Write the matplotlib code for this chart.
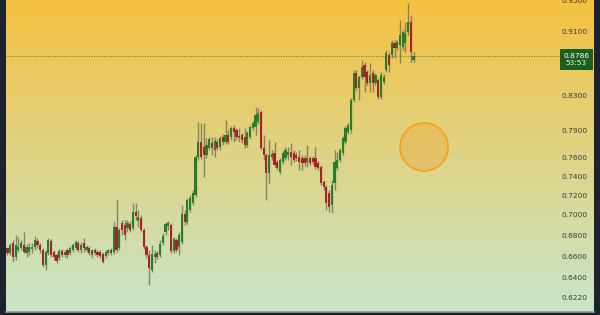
import numpy as np
import matplotlib
matplotlib.use("Agg")
import matplotlib.pyplot as plt
from matplotlib.ticker import FixedLocator, NullLocator, FixedFormatter
from matplotlib.patches import Ellipse, Rectangle
import matplotlib.transforms as mtransforms

opens = [0.6676, 0.6629, 0.6724, 0.6591, 0.6657, 0.6676, 0.6705, 0.6629, 0.6638, 0.6667,
         0.6686, 0.6743, 0.6705, 0.6657, 0.6516, 0.6629, 0.6743, 0.6638, 0.6610, 0.6582,
         0.6648, 0.6610, 0.6657, 0.6629, 0.6657, 0.6676, 0.6724, 0.6657, 0.6724, 0.6657,
         0.6676, 0.6610, 0.6657, 0.6638, 0.6638, 0.6619, 0.6601, 0.6629, 0.6657, 0.6638,
         0.6879, 0.6676, 0.6918, 0.6899, 0.6869, 0.6909, 0.6869, 0.7028, 0.6938, 0.6968,
         0.6850, 0.6686, 0.6610, 0.6470, 0.6591, 0.6629, 0.6610, 0.6724, 0.6830, 0.6889,
         0.6899, 0.6648, 0.6753, 0.6686, 0.6734, 0.7008, 0.6928, 0.7048, 0.7118, 0.7200,
         0.7601, 0.7766, 0.7711, 0.7623, 0.7700, 0.7755, 0.7678, 0.7766, 0.7711, 0.7822,
         0.7766, 0.7844, 0.7822, 0.7923, 0.7900, 0.7810, 0.7844, 0.7822, 0.7733, 0.7822,
         0.7923, 0.7934, 0.7991, 0.8106, 0.7700, 0.7623, 0.7430, 0.7601, 0.7645, 0.7547,
         0.7441, 0.7547, 0.7591, 0.7623, 0.7656, 0.7645, 0.7623, 0.7601, 0.7591, 0.7591,
         0.7547, 0.7591, 0.7591, 0.7591, 0.7537, 0.7494, 0.7335, 0.7283, 0.7221, 0.7098,
         0.7325, 0.7483, 0.7569, 0.7645, 0.7766, 0.7878, 0.7900, 0.8246, 0.8570, 0.8388,
         0.8522, 0.8669, 0.8583, 0.8449, 0.8570, 0.8449, 0.8485, 0.8281, 0.8461, 0.8607,
         0.8793, 0.8793, 0.8945, 0.8881, 0.8920, 0.8894, 0.8945, 0.9087, 0.9218, 0.8731]
highs = [0.6686, 0.6724, 0.6753, 0.6801, 0.6782, 0.6753, 0.6830, 0.6715, 0.6724, 0.6724,
         0.6791, 0.6772, 0.6724, 0.6676, 0.6657, 0.6772, 0.6763, 0.6657, 0.6629, 0.6667,
         0.6667, 0.6657, 0.6676, 0.6695, 0.6724, 0.6753, 0.6743, 0.6734, 0.6772, 0.6705,
         0.6695, 0.6667, 0.6676, 0.6657, 0.6657, 0.6638, 0.6657, 0.6667, 0.6676, 0.6928,
         0.7149, 0.6869, 0.6948, 0.6948, 0.6948, 0.6938, 0.7118, 0.7118, 0.7048, 0.6998,
         0.6869, 0.6705, 0.6657, 0.6705, 0.6657, 0.6648, 0.6753, 0.6821, 0.6928, 0.6938,
         0.6918, 0.6782, 0.6772, 0.6830, 0.7098, 0.7048, 0.7169, 0.7200, 0.7252, 0.7623,
         0.7991, 0.7980, 0.7980, 0.7810, 0.7822, 0.7822, 0.7822, 0.7799, 0.7833, 0.7855,
         0.8014, 0.7900, 0.7946, 0.7957, 0.7923, 0.7923, 0.7866, 0.7923, 0.7889, 0.7957,
         0.8003, 0.8164, 0.8152, 0.8129, 0.7844, 0.7645, 0.7788, 0.7678, 0.7766, 0.7569,
         0.7591, 0.7667, 0.7711, 0.7711, 0.7755, 0.7678, 0.7656, 0.7678, 0.7623, 0.7623,
         0.7733, 0.7612, 0.7612, 0.7711, 0.7558, 0.7515, 0.7356, 0.7304, 0.7252, 0.7356,
         0.7678, 0.7656, 0.7700, 0.7833, 0.7946, 0.7980, 0.8270, 0.8607, 0.8607, 0.8546,
         0.8731, 0.8706, 0.8607, 0.8694, 0.8607, 0.8570, 0.8509, 0.8583, 0.8558, 0.8856,
         0.8831, 0.8984, 0.8984, 0.8984, 0.9244, 0.9113, 0.9218, 0.9471, 0.9310, 0.8831]
lows = [0.6610, 0.6610, 0.6544, 0.6563, 0.6638, 0.6657, 0.6629, 0.6591, 0.6610, 0.6629,
        0.6657, 0.6676, 0.6629, 0.6498, 0.6470, 0.6610, 0.6591, 0.6563, 0.6535, 0.6563,
        0.6591, 0.6591, 0.6582, 0.6610, 0.6638, 0.6657, 0.6638, 0.6629, 0.6638, 0.6638,
        0.6610, 0.6582, 0.6610, 0.6591, 0.6582, 0.6535, 0.6582, 0.6610, 0.6610, 0.6619,
        0.6638, 0.6657, 0.6801, 0.6753, 0.6830, 0.6830, 0.6850, 0.6948, 0.6879, 0.6830,
        0.6667, 0.6582, 0.6333, 0.6452, 0.6535, 0.6572, 0.6591, 0.6705, 0.6801, 0.6850,
        0.6629, 0.6629, 0.6638, 0.6610, 0.6715, 0.6899, 0.6909, 0.7028, 0.7098, 0.7180,
        0.7569, 0.7580, 0.7388, 0.7591, 0.7678, 0.7623, 0.7601, 0.7678, 0.7678, 0.7733,
        0.7744, 0.7744, 0.7788, 0.7766, 0.7788, 0.7766, 0.7755, 0.7700, 0.7711, 0.7799,
        0.7900, 0.7844, 0.7968, 0.7678, 0.7569, 0.7149, 0.7325, 0.7569, 0.7494, 0.7462,
        0.7420, 0.7526, 0.7569, 0.7569, 0.7515, 0.7547, 0.7558, 0.7462, 0.7462, 0.7504,
        0.7494, 0.7515, 0.7526, 0.7473, 0.7462, 0.7304, 0.7252, 0.7048, 0.7028, 0.7018,
        0.7252, 0.7462, 0.7547, 0.7623, 0.7744, 0.7855, 0.7866, 0.8222, 0.8364, 0.8246,
        0.8497, 0.8340, 0.8424, 0.8340, 0.8340, 0.8424, 0.8258, 0.8258, 0.8436, 0.8583,
        0.8583, 0.8756, 0.8756, 0.8856, 0.8694, 0.8856, 0.8831, 0.9048, 0.8706, 0.8706]
closes = [0.6629, 0.6705, 0.6591, 0.6705, 0.6686, 0.6724, 0.6638, 0.6686, 0.6686, 0.6686,
          0.6753, 0.6705, 0.6657, 0.6516, 0.6638, 0.6753, 0.6610, 0.6591, 0.6554, 0.6648,
          0.6610, 0.6638, 0.6610, 0.6676, 0.6705, 0.6734, 0.6657, 0.6705, 0.6676, 0.6686,
          0.6629, 0.6657, 0.6629, 0.6610, 0.6601, 0.6544, 0.6638, 0.6657, 0.6629, 0.6879,
          0.6657, 0.6850, 0.6850, 0.6801, 0.6918, 0.6850, 0.7028, 0.6988, 0.6978, 0.6850,
          0.6686, 0.6610, 0.6489, 0.6619, 0.6619, 0.6591, 0.6715, 0.6791, 0.6909, 0.6918,
          0.6648, 0.6763, 0.6657, 0.6801, 0.7008, 0.6928, 0.7149, 0.7169, 0.7221, 0.7601,
          0.7766, 0.7601, 0.7623, 0.7733, 0.7799, 0.7700, 0.7777, 0.7700, 0.7810, 0.7766,
          0.7844, 0.7766, 0.7923, 0.7878, 0.7822, 0.7833, 0.7788, 0.7733, 0.7866, 0.7934,
          0.7980, 0.8071, 0.8094, 0.7700, 0.7623, 0.7430, 0.7623, 0.7634, 0.7515, 0.7483,
          0.7569, 0.7645, 0.7678, 0.7656, 0.7601, 0.7569, 0.7591, 0.7547, 0.7537, 0.7537,
          0.7591, 0.7537, 0.7547, 0.7494, 0.7483, 0.7325, 0.7283, 0.7118, 0.7078, 0.7304,
          0.7547, 0.7569, 0.7678, 0.7810, 0.7923, 0.7957, 0.8246, 0.8570, 0.8388, 0.8522,
          0.8644, 0.8522, 0.8449, 0.8546, 0.8449, 0.8546, 0.8281, 0.8546, 0.8522, 0.8818,
          0.8669, 0.8945, 0.8881, 0.8958, 0.9048, 0.9087, 0.9074, 0.9218, 0.8831, 0.8786]

tick_values = [0.6220, 0.6400, 0.6600, 0.6800, 0.7000, 0.7200, 0.7400, 0.7600,
               0.7900, 0.8300, 0.9100, 0.9500]
last_price = 0.8786
countdown = "53:53"

W, H, DPI = 600, 315, 100
fig = plt.figure(figsize=(W / DPI, H / DPI), dpi=DPI)
fig.patch.set_facecolor('#1e222d')
L, R, T, B = 6, 594, 0, 312
ax = fig.add_axes([L / W, (H - B) / H, (R - L) / W, (B - T) / H])

n = len(closes)
x = np.arange(n)
o = np.array(opens); c = np.array(closes); h = np.array(highs); lo = np.array(lows)

ax.set_yscale('log')
ax.set_ylim(0.6095, 0.9512)
ax.set_xlim(-0.55, 215.2)

# background gradient
top = np.array([245, 193, 64]) / 255
bot = np.array([200, 230, 203]) / 255
t = np.linspace(0, 1, 256)[:, None]
grad = (top[None, :] * (1 - t) + bot[None, :] * t)[:, None, :]
ax.imshow(grad, extent=[0, 1, 0, 1], transform=ax.transAxes, aspect='auto',
          zorder=0, interpolation='bicubic')

up = c >= o
green = '#237f2a'
red = '#ad2029'
ax.vlines(x, lo, h, colors='#6a6a50', linewidth=1.0, alpha=0.75, zorder=2)
ax.bar(x[up], (c - o)[up], bottom=o[up], width=0.8, color=green, zorder=3, linewidth=0)
ax.bar(x[~up], (o - c)[~up], bottom=c[~up], width=0.8, color=red, zorder=3, linewidth=0)

# last price dotted line
ax.axhline(last_price, color='#5c7a2a', linewidth=0.7, linestyle=(0, (1, 1.5)), zorder=1)

# circle marker
ax.add_patch(Ellipse((0.711, 0.529), 48 / (R - L), 48 / (B - T), transform=ax.transAxes,
                     facecolor='#f0a030', alpha=0.35, edgecolor='none', zorder=4))
ax.add_patch(Ellipse((0.711, 0.529), 48 / (R - L), 48 / (B - T), transform=ax.transAxes,
                     facecolor='none', edgecolor='#f5a31e', linewidth=1.3, zorder=4))

# price label box
trans = mtransforms.blended_transform_factory(ax.transAxes, ax.transData)
bx0 = (560 - L) / (R - L)
box_top, box_bot = 0.8869, 0.8607
ax.add_patch(Rectangle((bx0, box_bot), (593 - 560) / (R - L), box_top - box_bot,
                       transform=trans, facecolor='#1b5e20', edgecolor='none', zorder=5))
ax.text((576 - L) / (R - L), last_price, f"{last_price:.4f}", transform=trans,
        ha='center', va='center', fontsize=5.3, color='white', zorder=6)
ax.text((576 - L) / (R - L), 0.8694, countdown, transform=trans,
        ha='center', va='center', fontsize=5.3, color='#e8f5e9', zorder=6)

# y ticks inside
ax.yaxis.tick_right()
ax.yaxis.set_major_locator(FixedLocator(tick_values))
ax.yaxis.set_minor_locator(NullLocator())
ax.yaxis.set_major_formatter(FixedFormatter([f"{v:.4f}" for v in tick_values]))
ax.tick_params(axis='y', which='both', length=0, pad=-4.5, labelsize=5.3, labelcolor='#3a3a3a')
for lbl in ax.get_yticklabels():
    lbl.set_horizontalalignment('right')
ax.set_xticks([])

for s in ['top', 'left', 'right']:
    ax.spines[s].set_visible(False)
ax.spines['bottom'].set_color('#8e9a8e')
ax.spines['bottom'].set_linewidth(1.2)

fig.savefig('out.png', dpi=DPI, facecolor=fig.get_facecolor())
